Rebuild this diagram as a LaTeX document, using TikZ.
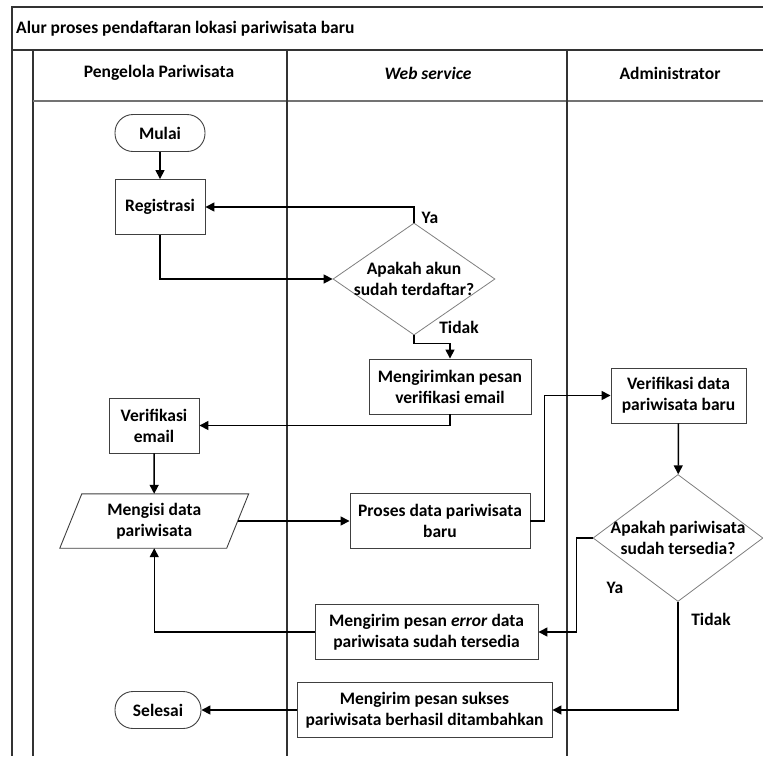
\documentclass[tikz,border=0pt]{standalone}
\usepackage{fontspec}
\setmainfont{Carlito}
\usetikzlibrary{arrows.meta,shapes.geometric}
\begin{document}
\begin{tikzpicture}[x=1pt,y=-1pt,
  every node/.style={font=\fontsize{17.5}{21}\selectfont\bfseries, align=center, inner sep=0pt, text=black},
  box/.style={draw=black!75, line width=0.9pt, minimum width=#1, minimum height=55},
  term/.style={draw=black!75, line width=0.9pt, rounded corners=18pt, minimum height=37, minimum width=#1},
  decbox/.style={diamond, draw=black!50, line width=0.8pt},
  arr/.style={line width=1.5pt, -{Triangle[length=9pt,width=9pt]}},
  lane/.style={line width=1.2pt, draw=black!80},
  hline/.style={line width=1.2pt, draw=black!55},
  lbl/.style={anchor=center}
]
\useasboundingbox[fill=white] (0,0) rectangle (763,756);

% frame
\draw[lane] (763,7) -- (12,7) -- (12,756);
\draw[lane] (12,50) -- (763,50);
\draw[lane] (33,50) -- (33,756);
\draw[hline] (33,101) -- (763,101);
\draw[lane] (287,50) -- (287,756);
\draw[lane] (567,50) -- (567,756);

\node[anchor=west] (title) at (16,29) {Alur proses pendaftaran lokasi pariwisata baru};
\node (h1) at (159,73) {Pengelola Pariwisata};
\node (h2) at (428,73) {\itshape Web service};
\node (h3) at (670,73) {Administrator};

% nodes
\node[term=90] (mulai) at (160,133) {Mulai};
\node[box=90] (reg) at (160,207) {Registrasi};
\node[decbox, minimum width=162, minimum height=112,
      label={[align=center]center:Apakah akun\\sudah terdaftar?}] (d1) at (414,279) {};
\node[box=162] (kirim) at (450,386.5) {Mengirimkan pesan\\verifikasi email};
\node[box=90] (verif) at (154,425.5) {Verifikasi\\email};
\node[minimum width=166.5, minimum height=54] (isi) at (154.25,521) {Mengisi data\\pariwisata};
\draw[draw=black!75, line width=0.9pt]
  ([xshift=-11pt]isi.south west) -- ([xshift=11pt]isi.north west) --
  ([xshift=11pt]isi.north east) -- ([xshift=-11pt]isi.south east) -- cycle;
\node[box=180] (proses) at (440,521) {Proses data pariwisata\\baru};
\node[box=135] (verdata) at (678.5,395.5) {Verifikasi data\\pariwisata baru};
\node[decbox, minimum width=170, minimum height=127,
      label={[align=center]center:Apakah pariwisata\\sudah tersedia?}] (d2) at (678,538) {};
\node[box=223] (err) at (426.5,632) {Mengirim pesan \textit{error} data\\pariwisata sudah tersedia};
\node[box=255] (sukses) at (424.5,710) {Mengirim pesan sukses\\pariwisata berhasil ditambahkan};
\node[term=86] (selesai) at (158,710) {Selesai};

% labels
\node (ya1) at (430,218) {Ya};
\node (tidak1) at (459,327) {Tidak};
\node (ya2) at (615,588) {Ya};
\node (tidak2) at (711,619) {Tidak};

% connectors
\draw[arr] (mulai) -- (reg);
\draw[arr] (d1.north) |- (reg.east);
\draw[arr] (reg.south) |- (d1.west);
\draw[arr] (d1.south) -- ++(0,8) -| (kirim.north);
\draw[arr] (kirim.south) |- (verif.east);
\draw[arr] (verif) -- (isi);
\draw[arr] (isi.east) -- (proses.west);
\draw[arr] (proses.east) -- ++(14,0) |- (verdata.west);
\draw[arr] (verdata) -- (d2);
\draw[arr] (d2.west) -- ++(-16,0) |- (err.east);
\draw[arr] (d2.south) |- (sukses.east);
\draw[arr] (err.west) -| (isi.south);
\draw[arr] (sukses.west) -- (selesai.east);
\end{tikzpicture}
\end{document}
